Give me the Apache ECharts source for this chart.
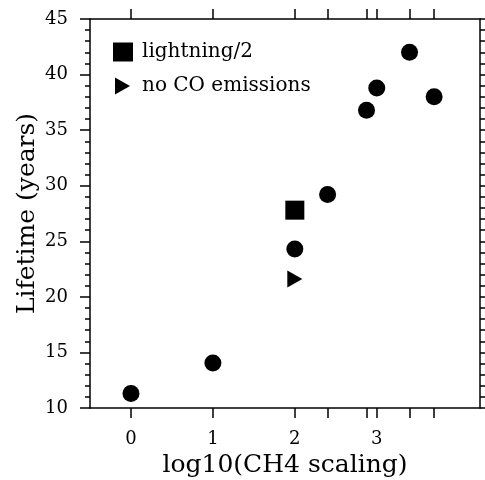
<!DOCTYPE html>
<html>
<head>
<meta charset="utf-8">
<script src="https://cdn.jsdelivr.net/npm/echarts@6/dist/echarts.min.js"></script>
<style>html,body{margin:0;padding:0;background:#fff}#c{width:485px;height:480px}</style>
</head>
<body>
<div id="c"></div>
<script>
// log10 of CH4 scaling
var xBase = [0, 1, 2, 2.4, 2.875, 3.0, 3.4, 3.7];
var yBase = [11.3, 14.05, 24.3, 29.2, 36.8, 38.8, 42.0, 38.0];
var xLightning = [2];
var yLightning = [27.8];
var xNoCO = [2];
var yNoCO = [21.6];
var xTickValues = [0, 1, 2, 2.4, 2.875, 3.0, 3.4, 3.7];
var xLabelValues = [0, 1, 2, 3];
var yMin = 10, yMax = 45, yStep = 5;

var FONT = 'DejaVu Serif';
var TRI = 'path://M0,0L15,8.5L0,17Z';

function pairs(xs, ys) { return xs.map(function (x, i) { return [x, ys[i]]; }); }

var chart = echarts.init(document.getElementById('c'), null, {renderer: 'canvas'});
var lineStyle = {color: '#000', width: 1.5};
var mark = {color: '#000', opacity: 1};
chart.setOption({
  animation: false,
  backgroundColor: '#fff',
  grid: {left: 90, right: 5, top: 19, bottom: 72, containLabel: false, outerBoundsMode: 'none'},
  legend: [
    {data: [{name: 'lightning/2', icon: 'rect', itemStyle: mark}], left: 113, top: 42, padding: 0,
     itemWidth: 20, itemHeight: 19, selectedMode: false,
     textStyle: {fontFamily: FONT, fontSize: 20, color: '#000', padding: [0, 0, 0, 4]}},
    {data: [{name: 'no CO emissions', icon: TRI, itemStyle: mark}], left: 115, top: 76, padding: 0,
     itemWidth: 15, itemHeight: 17, selectedMode: false,
     textStyle: {fontFamily: FONT, fontSize: 20, color: '#000', padding: [0, 0, 0, 7]}}
  ],
  xAxis: [
    {type: 'value', position: 'bottom', min: -0.5, max: 4.26,
     name: 'log10(CH4 scaling)', nameLocation: 'middle', nameGap: 45, nameMoveOverlap: false,
     nameTextStyle: {fontFamily: FONT, fontSize: 25, color: '#000'},
     axisLine: {show: true, onZero: false, lineStyle: lineStyle},
     axisTick: {show: true, length: 10, inside: false, customValues: xTickValues, lineStyle: lineStyle},
     axisLabel: {show: true, margin: 22, customValues: xLabelValues, fontFamily: FONT, fontSize: 18, color: '#000'},
     splitLine: {show: false}},
    {type: 'value', position: 'top', min: -0.5, max: 4.26,
     axisLine: {show: true, onZero: false, lineStyle: lineStyle},
     axisTick: {show: true, length: 10, inside: false, customValues: xTickValues, lineStyle: lineStyle},
     axisLabel: {show: false},
     splitLine: {show: false}}
  ],
  yAxis: [
    {type: 'value', position: 'left', min: yMin, max: yMax, interval: yStep,
     name: 'Lifetime (years)', nameLocation: 'middle', nameGap: 50, nameMoveOverlap: false,
     nameTextStyle: {fontFamily: FONT, fontSize: 25, color: '#000'},
     axisLine: {show: true, onZero: false, lineStyle: lineStyle},
     axisTick: {show: true, length: 10, inside: false, lineStyle: lineStyle},
     minorTick: {show: true, splitNumber: 5, length: 5, lineStyle: {color: '#000', width: 1.5}},
     axisLabel: {show: true, margin: 22, fontFamily: FONT, fontSize: 18, color: '#000'},
     splitLine: {show: false}, minorSplitLine: {show: false}},
    {type: 'value', position: 'right', min: yMin, max: yMax, interval: 1,
     axisLine: {show: true, onZero: false, lineStyle: lineStyle},
     axisTick: {show: true, length: 5, inside: false, lineStyle: lineStyle},
     axisLabel: {show: false},
     splitLine: {show: false}}
  ],
  series: [
    {name: 'base', type: 'scatter', xAxisIndex: 0, yAxisIndex: 0, symbol: 'circle', symbolSize: 17,
     itemStyle: mark, data: pairs(xBase, yBase)},
    {name: 'lightning/2', type: 'scatter', xAxisIndex: 0, yAxisIndex: 0, symbol: 'rect', symbolSize: 19,
     itemStyle: mark, data: pairs(xLightning, yLightning)},
    {name: 'no CO emissions', type: 'scatter', xAxisIndex: 0, yAxisIndex: 0, symbol: TRI, symbolSize: [15, 17],
     itemStyle: mark, data: pairs(xNoCO, yNoCO)}
  ]
});
</script>
</body>
</html>
